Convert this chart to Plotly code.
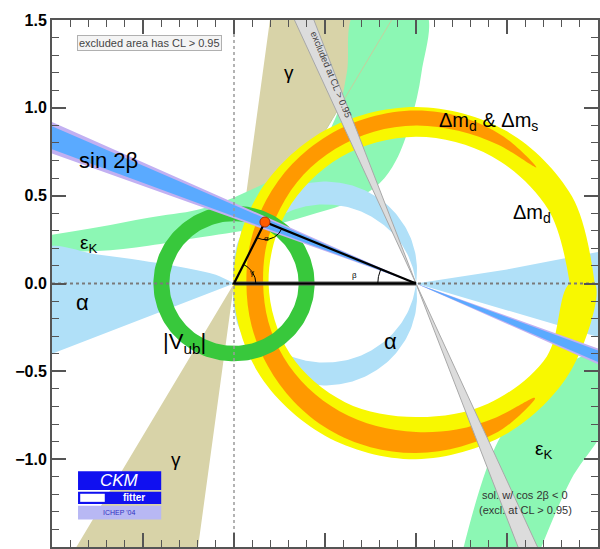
import numpy as np
import plotly.graph_objects as go

# ---------------- constraint values in the (rho-bar, eta-bar) plane ----------------
apex_rho_eta = [0.17, 0.35]              # best-fit apex of the unitarity triangle

beta_band_deg = [20.3, 24.7]             # sin2beta, outer band (deg)
beta_core_deg = [20.9, 24.1]             # sin2beta, inner band (deg)
beta_mirror_deg = [66.0, 69.5]           # cos2beta < 0 solution (90 - beta), excluded

gamma_deg = [60.0, 82.5]                 # gamma wedge from the origin (mod 180)
alpha_deg = [81.5, 96.0]                 # alpha band, arcs through (0,0) and (1,0)

vub_radius = [0.355, 0.443]              # |Vub| ring around (0,0)

dmd_theta_deg = [0, 30, 60, 90, 120, 150, 180, 210, 240, 270, 300, 330, 360]
dmd_r_in = [0.845, 0.84, 0.835, 0.835, 0.83, 0.82, 0.81, 0.80, 0.78, 0.76, 0.79, 0.83, 0.845]
dmd_r_out = [0.982, 0.99, 1.0, 1.005, 1.005, 1.005, 1.005, 1.005, 1.0, 1.0, 0.99, 0.985, 0.982]

dms_theta_deg = [45, 60, 75, 90, 105, 120, 135, 150, 165, 180, 195, 210, 225, 240, 255, 270, 285, 300, 315]
dms_r_in = [0.935, 0.91, 0.90, 0.90, 0.895, 0.885, 0.875, 0.86, 0.85, 0.84, 0.84, 0.84, 0.84, 0.84, 0.84, 0.845, 0.86, 0.88, 0.92]
dms_r_out = [0.935, 0.965, 0.98, 0.985, 0.98, 0.972, 0.962, 0.95, 0.94, 0.932, 0.935, 0.94, 0.95, 0.96, 0.965, 0.965, 0.96, 0.955, 0.925]

# epsilon_K, upper branch (boundary of the CL > 0.05 region)
epsk_up_rho = [-1.05, -0.75, -0.47, -0.2, 0.0, 0.19, 0.35, 0.46, 0.571, 0.62, 0.67,
               1.05, 1.03, 0.97, 0.89, 0.80, 0.65, 0.45, 0.2, -0.2, -0.47, -0.75, -1.05]
epsk_up_eta = [0.27, 0.32, 0.375, 0.42, 0.49, 0.58, 0.66, 0.76, 0.977, 1.2, 1.55,
               1.55, 1.2, 0.92, 0.70, 0.57, 0.47, 0.40, 0.33, 0.26, 0.215, 0.185, 0.185]
# epsilon_K, lower branch
epsk_lo_rho = [1.25, 1.45, 1.7, 1.9, 2.05, 2.05, 1.85, 1.67]
epsk_lo_eta = [-1.55, -0.9, -0.55, -0.42, -0.37, -0.78, -1.12, -1.55]

# alpha, solutions close to the real axis
alpha_left_rho = [0.0, -0.1, -0.25, -0.5, -0.75, -1.05, -1.05]
alpha_left_eta = [0.0, 0.05, 0.086, 0.13, 0.165, 0.195, -0.42]
alpha_right_rho = [1.0, 1.5, 2.05, 2.05]
alpha_right_eta = [0.0, 0.08, 0.19, -0.32]

y_tick_vals = [-1.5, -1.0, -0.5, 0.0, 0.5, 1.0, 1.5]

# ---------------- colours ----------------
C_GAMMA = "#d8d3a8"
C_EPSK = "#8cf7b4"
C_ALPHA = "#b0e0f8"
C_BETA_OUT = "#c2b0f2"
C_BETA_IN = "#5aaaff"
C_DMD = "#f8f800"
C_DMS = "#ff9900"
C_VUB = "#38c83c"
C_EXCL = "#dcdcdc"

L = 6.0  # ray length for wedges (clipped by the axes)


def wedge(vertex, angles_deg):
    """Closed triangle from a vertex spanning two ray directions."""
    a0, a1 = np.radians(angles_deg)
    vx, vy = vertex
    xs = [vx, vx + L * np.cos(a0), vx + L * np.cos(a1), vx]
    ys = [vy, vy + L * np.sin(a0), vy + L * np.sin(a1), vy]
    return xs, ys


def double_wedge(vertex, angles_deg):
    x1, y1 = wedge(vertex, angles_deg)
    x2, y2 = wedge(vertex, [a + 180 for a in angles_deg])
    return x1 + [None] + x2, y1 + [None] + y2


def ring(center, theta_deg, r_in, r_out):
    t = np.radians(np.asarray(theta_deg, float))
    ri = np.asarray(r_in, float)
    ro = np.asarray(r_out, float)
    cx, cy = center
    xo = cx + ro * np.cos(t)
    yo = cy + ro * np.sin(t)
    xi = cx + ri[::-1] * np.cos(t[::-1])
    yi = cy + ri[::-1] * np.sin(t[::-1])
    return list(xo) + list(xi), list(yo) + list(yi)


def alpha_arc(a_deg, sign):
    """Arc of points seeing the segment [0,1] under angle a (above axis for sign=+1)."""
    a = np.radians(a_deg)
    cy = 0.5 / np.tan(a) * sign
    r = 0.5 / np.sin(a)
    t0 = np.arctan2(-cy, -0.5)
    t1 = np.arctan2(-cy, 0.5)
    if sign > 0:
        t = np.linspace(t0, t1 - 2 * np.pi if t1 > t0 else t1, 120)
    else:
        t = np.linspace(t0, t1 + 2 * np.pi if t1 < t0 else t1, 120)
    return 0.5 + r * np.cos(t), cy + r * np.sin(t)


def alpha_lens(sign):
    xa, ya = alpha_arc(alpha_deg[0], sign)
    xb, yb = alpha_arc(alpha_deg[1], sign)
    return list(xa) + list(xb[::-1]), list(ya) + list(yb[::-1])


def fill_trace(xs, ys, color, shape="linear"):
    return go.Scatter(x=xs, y=ys, mode="lines", fill="toself", fillcolor=color,
                      line=dict(width=0, color=color, shape=shape),
                      hoverinfo="skip", showlegend=False)


fig = go.Figure()

# gamma
gx, gy = double_wedge((0.0, 0.0), gamma_deg)
fig.add_trace(fill_trace(gx, gy, C_GAMMA))

# epsilon_K
fig.add_trace(fill_trace(epsk_up_rho, epsk_up_eta, C_EPSK, "spline"))
fig.add_trace(fill_trace(epsk_lo_rho, epsk_lo_eta, C_EPSK, "spline"))
# gamma edge line drawn over epsilon_K
ang = np.radians(gamma_deg[0])
fig.add_trace(go.Scatter(x=[0, L * np.cos(ang)], y=[0, L * np.sin(ang)], mode="lines",
                         line=dict(width=1, color="#c4cf9e"), hoverinfo="skip", showlegend=False))

# alpha
for s in (1, -1):
    ax_, ay_ = alpha_lens(s)
    fig.add_trace(fill_trace(ax_, ay_, C_ALPHA))
fig.add_trace(fill_trace(alpha_left_rho, alpha_left_eta, C_ALPHA, "spline"))
fig.add_trace(fill_trace(alpha_right_rho, alpha_right_eta, C_ALPHA))

# Delta m_d and Delta m_d & Delta m_s
dx, dy = ring((1.0, 0.0), dmd_theta_deg, dmd_r_in, dmd_r_out)
fig.add_trace(fill_trace(dx, dy, C_DMD, "spline"))
sx, sy = ring((1.0, 0.0), dms_theta_deg, dms_r_in, dms_r_out)
fig.add_trace(fill_trace(sx, sy, C_DMS, "spline"))

# excluded cos2beta < 0 solution
ex, ey = double_wedge((1.0, 0.0), [180 - beta_mirror_deg[1], 180 - beta_mirror_deg[0]])
fig.add_trace(go.Scatter(x=ex, y=ey, mode="lines", fill="toself", fillcolor=C_EXCL,
                         line=dict(width=1, color="#a8a8a8"), hoverinfo="skip", showlegend=False))

# |Vub|
th = np.linspace(0, 360, 181)
vx, vy = ring((0.0, 0.0), th, [vub_radius[0]] * len(th), [vub_radius[1]] * len(th))
fig.add_trace(fill_trace(vx, vy, C_VUB))

# sin 2beta
bx, by = double_wedge((1.0, 0.0), [180 - beta_band_deg[1], 180 - beta_band_deg[0]])
fig.add_trace(fill_trace(bx, by, C_BETA_OUT))
bx, by = double_wedge((1.0, 0.0), [180 - beta_core_deg[1], 180 - beta_core_deg[0]])
fig.add_trace(fill_trace(bx, by, C_BETA_IN))

# reference lines
fig.add_trace(go.Scatter(x=[0, 0], y=[-1.5, 1.5], mode="lines",
                         line=dict(width=1.5, color="#9a9a9a", dash="dot"),
                         hoverinfo="skip", showlegend=False))
fig.add_trace(go.Scatter(x=[-1, 2], y=[0, 0], mode="lines",
                         line=dict(width=2, color="#7a7a7a", dash="dot"),
                         hoverinfo="skip", showlegend=False))

# unitarity triangle
ar, ae = apex_rho_eta
fig.add_trace(go.Scatter(x=[0, 1], y=[0, 0], mode="lines",
                         line=dict(width=4, color="#555555"), hoverinfo="skip", showlegend=False))
fig.add_trace(go.Scatter(x=[1, ar, 0, 1], y=[0, ae, 0, 0], mode="lines",
                         line=dict(width=2.2, color="black"), hoverinfo="skip", showlegend=False))


def angle_arc(vertex, a0, a1, r):
    t = np.radians(np.linspace(a0, a1, 30))
    return vertex[0] + r * np.cos(t), vertex[1] + r * np.sin(t)


phi_gamma = np.degrees(np.arctan2(ae, ar))
phi_beta = np.degrees(np.arctan2(ae, ar - 1))
arcs = [((0, 0), 0, phi_gamma, 0.12),
        ((ar, ae), phi_gamma + 180, phi_beta + 180, 0.10),
        ((1, 0), phi_beta, 180, 0.21)]
for v, a0, a1, r in arcs:
    xa, ya = angle_arc(v, a0, a1, r)
    fig.add_trace(go.Scatter(x=xa, y=ya, mode="lines", line=dict(width=1, color="black"),
                             hoverinfo="skip", showlegend=False))

fig.add_trace(go.Scatter(x=[ar], y=[ae], mode="markers",
                         marker=dict(size=10, color="#ff5a00", line=dict(width=1, color="#b03000")),
                         hoverinfo="skip", showlegend=False))

# ---------------- labels ----------------
FONT = "Liberation Sans"


def label(x, y, text, size, color="black", angle=0, **kw):
    fig.add_annotation(x=x, y=y, text=text, showarrow=False, textangle=angle,
                       font=dict(family=FONT, size=size, color=color), **kw)


label(0.30, 1.20, "γ", 19)
label(-0.32, -1.00, "γ", 19)
label(-0.69, 0.70, "sin 2β", 22)
label(-0.80, 0.225, "ε<sub>K</sub>", 19)
label(1.70, -0.95, "ε<sub>K</sub>", 19)
label(-0.83, -0.11, "α", 22)
label(0.86, -0.33, "α", 22)
label(-0.27, -0.34, "|V<sub>ub</sub>|", 22)
label(1.40, 0.925, "Δm<sub>d</sub> & Δm<sub>s</sub>", 20)
label(1.64, 0.40, "Δm<sub>d</sub>", 20)
label(0.10, 0.06, "γ", 8)
label(0.18, 0.255, "α", 8)
label(0.66, 0.045, "β", 8)
label(0.535, 1.19, "excluded at CL > 0.95", 9.5, color="#444444", angle=67.5)
label(-0.465, 1.368, "excluded area has CL > 0.95", 11, color="#444444",
      bgcolor="#f4f4f4", bordercolor="#b0b0b0", borderwidth=1, borderpad=1)
label(1.60, -1.205, "sol. w/ cos 2β < 0", 11, color="#333333")
label(1.60, -1.29, "(excl. at CL > 0.95)", 11, color="#333333")

# CKMfitter logo
fig.add_shape(type="rect", x0=-0.857, x1=-0.40, y0=-1.175, y1=-1.069,
              fillcolor="#1010f0", line=dict(width=0), layer="above")
fig.add_shape(type="rect", x0=-0.857, x1=-0.40, y0=-1.255, y1=-1.185,
              fillcolor="#1010f0", line=dict(width=0), layer="above")
fig.add_shape(type="rect", x0=-0.845, x1=-0.71, y0=-1.243, y1=-1.197,
              fillcolor="white", line=dict(width=0), layer="above")
fig.add_shape(type="rect", x0=-0.857, x1=-0.40, y0=-1.343, y1=-1.265,
              fillcolor="#b8b8f4", line=dict(width=0), layer="above")
label(-0.63, -1.122, "<i>CKM</i>", 17, color="white")
label(-0.55, -1.221, "<b>fitter</b>", 10, color="white")
label(-0.63, -1.304, "ICHEP '04", 7, color="#3030c0")

fig.update_layout(
    width=600, height=549,
    margin=dict(l=52, r=0, t=20, b=2),
    paper_bgcolor="white", plot_bgcolor="white",
    showlegend=False, hovermode=False,
    xaxis=dict(range=[-1.0, 2.0], showticklabels=False, showgrid=False, zeroline=False,
               ticks="inside", ticklen=14, tickwidth=1.5, tickcolor="#555", dtick=0.5, tick0=0,
               minor=dict(ticks="inside", ticklen=7, dtick=0.1, tickcolor="#555", tickwidth=1),
               showline=True, linecolor="#555", linewidth=2, mirror="allticks"),
    yaxis=dict(range=[-1.5, 1.5], tickvals=y_tick_vals, tickformat=".1f", showgrid=False,
               zeroline=False, ticks="inside", ticklen=14, tickwidth=1.5, tickcolor="#555",
               minor=dict(ticks="inside", ticklen=7, dtick=0.1, tickcolor="#555", tickwidth=1),
               showline=True, linecolor="#555", linewidth=2, mirror="allticks",
               tickfont=dict(family=FONT, size=16, color="black", weight="bold")),
)

fig.write_html("out.html")
